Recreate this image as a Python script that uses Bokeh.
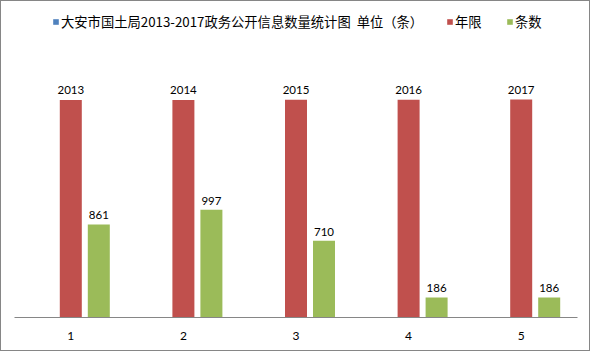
from bokeh.plotting import figure
from bokeh.models import ColumnDataSource, Range1d, FixedTicker, Legend, LegendItem
from bokeh.core.properties import value
from bokeh.embed import file_html
from bokeh.resources import INLINE

# ---- data ----
categories = [1, 2, 3, 4, 5]
tick_labels = ["1", "2", "3", "4", "5"]
series_names = ["大安市国土局2013-2017政务公开信息数量统计图\u00a0\u00a0单位（条）", "年限", "条数"]
title_series = [0, 0, 0, 0, 0]
years = [2013, 2014, 2015, 2016, 2017]
counts = [861, 997, 710, 186, 186]

colors = ["#4F81BD", "#C0504D", "#9BBB59"]

# ---- layout constants (px) ----
frame_w = 563
unit_px = frame_w / 5.0
bar_w = 22 / unit_px
offset = 28 / unit_px
px_per_unit = 217.5 / 2013.0

p = figure(width=590, height=351, output_backend="svg", toolbar_location=None,
           x_range=Range1d(0.5, 5.5), y_range=Range1d(0, 316 / px_per_unit),
           min_border_left=13, min_border_right=14, min_border_top=0, min_border_bottom=35)
p.styles = {"border": "1px solid #868686"}
p.outline_line_color = None
p.background_fill_color = "white"
p.border_fill_color = "white"
p.grid.visible = False
p.yaxis.visible = False

src = ColumnDataSource(dict(
    x=categories,
    xb=[c - offset for c in categories],
    xg=[c + offset for c in categories],
    blue=title_series, red=years, green=counts,
    red_lbl=[str(v) for v in years], green_lbl=[str(v) for v in counts],
))

rb = p.vbar(x="xb", top="blue", width=bar_w, source=src, fill_color=colors[0], line_color=None)
rr = p.vbar(x="x", top="red", width=bar_w, source=src, fill_color=colors[1], line_color=None)
rg = p.vbar(x="xg", top="green", width=bar_w, source=src, fill_color=colors[2], line_color=None)

p.text(x="x", y="red", text="red_lbl", source=src, text_align="center", text_baseline="alphabetic",
       y_offset=-10, text_font=value("Lato"), text_font_size="11.5px", text_color="#000000")
p.text(x="xg", y="green", text="green_lbl", source=src, text_align="center", text_baseline="alphabetic",
       y_offset=-9, text_font=value("Lato"), text_font_size="11.5px", text_color="#000000")

xa = p.xaxis[0]
xa.ticker = FixedTicker(ticks=categories)
xa.major_label_overrides = {c: t for c, t in zip(categories, tick_labels)}
xa.axis_line_color = "#868686"
xa.axis_line_width = 1
xa.major_tick_line_color = None
xa.minor_tick_line_color = None
xa.major_label_standoff = 8
xa.major_label_text_font = "Lato"
xa.major_label_text_font_size = "12px"
xa.major_label_text_color = "#000000"

legend_x = [38, 432, 492]
for name, r, lx in zip(series_names, [rb, rr, rg], legend_x):
    lg = Legend(items=[LegendItem(label=name, renderers=[r])],
                orientation="horizontal", location=(lx, 286),
                glyph_width=7, glyph_height=7, label_standoff=2, spacing=0,
                padding=0, margin=0, border_line_color=None, background_fill_alpha=0,
                label_text_font="Noto Sans CJK SC", label_text_font_size="13.3px",
                label_text_color="#000000", label_height=20)
    p.add_layout(lg, "center")

open("out.html", "w").write(file_html(p, INLINE))
